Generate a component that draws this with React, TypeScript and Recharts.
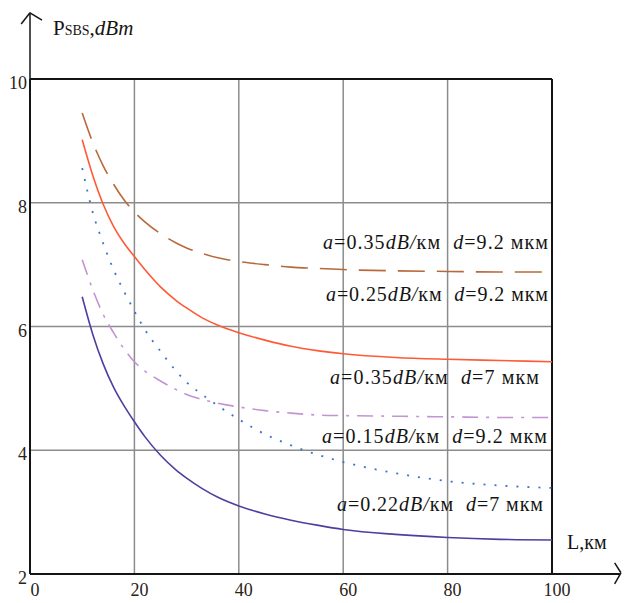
import React from 'react';

import { CartesianGrid, Line, LineChart, ReferenceLine, XAxis, YAxis } from 'recharts';

// fibre length, km
const lengths = [10, 12, 14, 16, 18, 20, 22, 25, 28, 30, 33, 36, 40, 45, 50, 55, 60, 70, 80, 90, 100];

// P_SBS, dBm
const a035d92 = [9.45, 8.98, 8.6, 8.3, 8.05, 7.85, 7.69, 7.5, 7.35, 7.27, 7.18, 7.11, 7.05, 7.0, 6.96, 6.94, 6.92, 6.9, 6.89, 6.88, 6.88];
const a025d92 = [9.02, 8.45, 7.98, 7.62, 7.35, 7.13, 6.92, 6.64, 6.42, 6.3, 6.14, 6.02, 5.9, 5.78, 5.68, 5.61, 5.56, 5.5, 5.47, 5.45, 5.43];
const a035d7 = [7.08, 6.6, 6.2, 5.9, 5.64, 5.43, 5.28, 5.12, 4.98, 4.9, 4.82, 4.76, 4.7, 4.64, 4.6, 4.57, 4.56, 4.55, 4.54, 4.53, 4.53];
const a015d92 = [8.56, 7.85, 7.35, 6.92, 6.57, 6.25, 5.95, 5.6, 5.28, 5.1, 4.9, 4.72, 4.5, 4.26, 4.08, 3.93, 3.81, 3.63, 3.5, 3.43, 3.39];
const a022d7 = [6.48, 5.88, 5.4, 5.02, 4.72, 4.46, 4.22, 3.92, 3.68, 3.55, 3.38, 3.24, 3.1, 2.97, 2.87, 2.79, 2.72, 2.64, 2.59, 2.56, 2.55];

const xTicks = [0, 20, 40, 60, 80, 100];
const yTicks = [2, 4, 6, 8, 10];

const data = lengths.map((L, i) => ({
  L,
  a035d92: a035d92[i],
  a025d92: a025d92[i],
  a035d7: a035d7[i],
  a015d92: a015d92[i],
  a022d7: a022d7[i],
}));

const serif = "'Liberation Serif', 'Times New Roman', 'DejaVu Serif', serif";
const black = '#141414';

function XTick({ x, y, payload }: any) {
  return (
    <text x={x + 5} y={y + 14} textAnchor="middle" fontSize={18} style={{ fontFamily: serif }} fill="#2a2218">
      {payload.value}
    </text>
  );
}

function YTick({ x, y, payload }: any) {
  return (
    <text x={x + 5} y={y + 10} textAnchor="end" fontSize={18} style={{ fontFamily: serif }} fill="#2a2218">
      {payload.value}
    </text>
  );
}

function Note({ x, y, w, a, d }: { x: number; y: number; w: number; a: string; d: string }) {
  return (
    <text x={x} y={y} textAnchor="end" fontSize={20} fill={black}
      textLength={w} lengthAdjust="spacing" style={{ whiteSpace: 'pre', fontFamily: serif }}>
      <tspan fontStyle="italic">a</tspan>={a}<tspan fontStyle="italic">dB/</tspan>км  <tspan fontStyle="italic">d</tspan>={d} мкм
    </text>
  );
}

export default function App() {
  return (
    <div style={{ position: 'absolute', left: 0, top: 0, background: '#fff' }}>
      <LineChart width={625} height={603} data={data} margin={{ top: 79, right: 73, bottom: 0, left: 0 }}>
        <CartesianGrid stroke="#8c8c8c" strokeWidth={1.5} />
        <XAxis dataKey="L" type="number" domain={[0, 100]} ticks={xTicks} height={29}
          axisLine={{ stroke: black, strokeWidth: 2 }} tickLine={false} tick={<XTick />} />
        <YAxis type="number" domain={[2, 10]} ticks={yTicks} width={30}
          axisLine={{ stroke: black, strokeWidth: 2 }} tickLine={false} tick={<YTick />} />

        <ReferenceLine y={10} stroke={black} strokeWidth={2} />
        <ReferenceLine x={100} stroke={black} strokeWidth={2} />
        {/* axis arrows */}
        <ReferenceLine segment={[{ x: 0, y: 10 }, { x: 0, y: 11.07 }]} stroke={black} strokeWidth={1.5} ifOverflow="visible" />
        <ReferenceLine segment={[{ x: -1.7, y: 10.89 }, { x: 0, y: 11.07 }]} stroke={black} strokeWidth={1.5} ifOverflow="visible" />
        <ReferenceLine segment={[{ x: 0, y: 11.07 }, { x: 2.3, y: 10.95 }]} stroke={black} strokeWidth={1.5} ifOverflow="visible" />
        <ReferenceLine segment={[{ x: 100, y: 2 }, { x: 113, y: 2 }]} stroke={black} strokeWidth={2} ifOverflow="visible" />
        <ReferenceLine segment={[{ x: 112, y: 2.18 }, { x: 113.2, y: 2.02 }]} stroke={black} strokeWidth={1.5} ifOverflow="visible" />
        <ReferenceLine segment={[{ x: 113.2, y: 2.02 }, { x: 112, y: 1.84 }]} stroke={black} strokeWidth={1.5} ifOverflow="visible" />

        <Line dataKey="a035d92" type="monotone" stroke="#b8693c" strokeWidth={1.6} strokeDasharray="27 12" dot={false} isAnimationActive={false} />
        <Line dataKey="a025d92" type="monotone" stroke="#ff5a36" strokeWidth={1.6} dot={false} isAnimationActive={false} />
        <Line dataKey="a035d7" type="monotone" stroke="#c394d4" strokeWidth={1.6} strokeDasharray="16 8 3 8" dot={false} isAnimationActive={false} />
        <Line dataKey="a015d92" type="monotone" stroke="#3b74cc" strokeWidth={1.8} strokeDasharray="2 9" dot={false} isAnimationActive={false} />
        <Line dataKey="a022d7" type="monotone" stroke="#4d3fa0" strokeWidth={1.6} dot={false} isAnimationActive={false} />

        <text x={53} y={35} fontSize={21} fill={black} style={{ fontFamily: serif }}>
          P<tspan fontSize={14}>SBS</tspan>,<tspan fontStyle="italic">dBm</tspan>
        </text>
        <text x={567} y={549} fontSize={20} fill={black} style={{ fontFamily: serif }}>L,км</text>

        <Note x={548} y={249} w={225} a="0.35" d="9.2" />
        <Note x={548} y={301} w={222} a="0.25" d="9.2" />
        <Note x={539} y={384} w={209} a="0.35" d="7" />
        <Note x={547} y={443} w={225} a="0.15" d="9.2" />
        <Note x={543} y={511} w={206} a="0.22" d="7" />
      </LineChart>
    </div>
  );
}
